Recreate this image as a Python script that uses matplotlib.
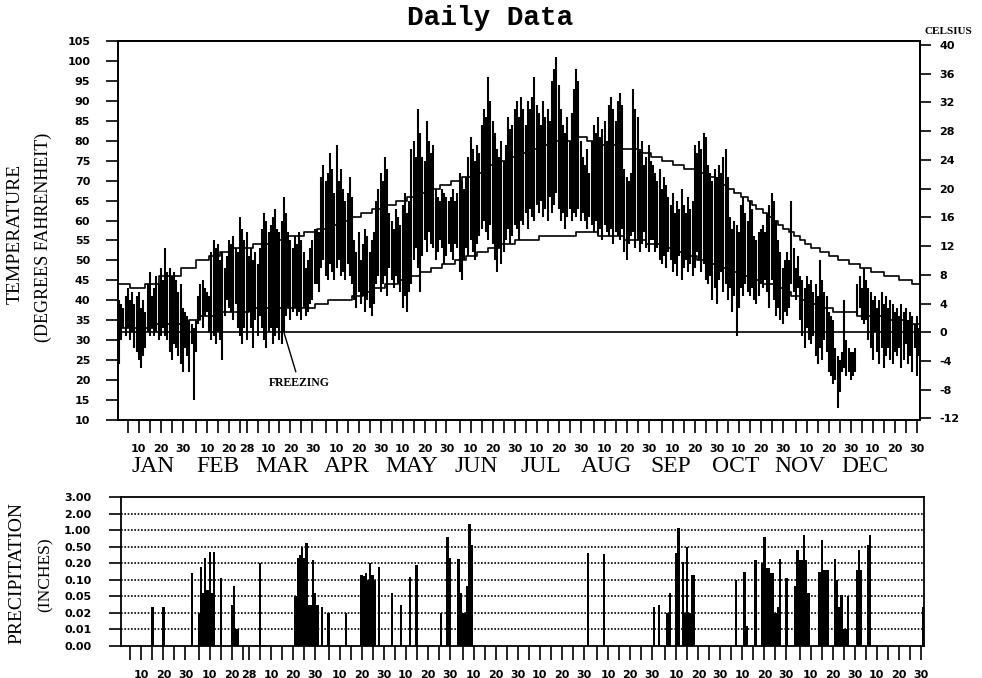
import numpy as np
import matplotlib
matplotlib.use("Agg")
import matplotlib.pyplot as plt
from matplotlib.transforms import blended_transform_factory

plt.rcParams['axes.unicode_minus'] = False

# ---------------- data ----------------
month_names = ["JAN", "FEB", "MAR", "APR", "MAY", "JUN",
               "JUL", "AUG", "SEP", "OCT", "NOV", "DEC"]
month_lengths = [31, 28, 31, 30, 31, 30, 31, 31, 30, 31, 30, 31]

hi_jan = [40, 39, 38, 41, 43, 40, 42, 39, 41, 42, 38, 40, 37, 44, 47, 41, 43, 46, 44, 48, 45, 53, 47, 48, 46, 47, 45, 42, 44, 38, 37]
lo_jan = [24, 30, 33, 31, 33, 30, 32, 28, 27, 25, 23, 26, 28, 32, 31, 33, 31, 32, 30, 31, 33, 31, 30, 27, 25, 29, 28, 26, 24, 22, 28]
hi_feb = [36, 35, 34, 33, 35, 41, 44, 45, 43, 42, 41, 52, 55, 53, 54, 50, 52, 48, 51, 55, 54, 56, 53, 52, 61, 58, 55, 57]
lo_feb = [26, 22, 29, 15, 27, 34, 35, 33, 36, 37, 32, 30, 31, 29, 32, 30, 25, 36, 40, 38, 37, 35, 39, 33, 31, 29, 33, 30]
hi_mar = [51, 53, 50, 52, 49, 53, 58, 62, 60, 57, 59, 61, 63, 58, 57, 60, 66, 62, 57, 55, 53, 56, 54, 57, 55, 52, 48, 50, 53, 55, 58]
lo_mar = [37, 33, 28, 35, 31, 36, 33, 30, 28, 32, 33, 29, 31, 33, 30, 29, 32, 36, 38, 35, 37, 38, 36, 37, 35, 38, 36, 37, 39, 40, 44]
hi_apr = [58, 57, 71, 74, 70, 72, 77, 73, 67, 79, 70, 73, 68, 65, 67, 71, 66, 55, 52, 57, 50, 54, 58, 56, 52, 55, 57, 65, 68, 72]
lo_apr = [44, 42, 48, 50, 46, 45, 49, 47, 45, 48, 50, 46, 47, 45, 49, 46, 44, 40, 38, 42, 39, 41, 37, 40, 38, 36, 39, 44, 46, 42]
hi_may = [70, 76, 73, 62, 60, 58, 63, 61, 59, 64, 67, 62, 65, 78, 80, 76, 88, 82, 76, 75, 85, 80, 77, 79, 68, 66, 65, 68, 67, 66, 65]
lo_may = [44, 46, 41, 48, 45, 43, 46, 44, 42, 38, 41, 37, 42, 44, 50, 53, 48, 42, 51, 55, 52, 57, 54, 53, 50, 52, 55, 53, 49, 51, 54]
hi_jun = [66, 68, 65, 67, 72, 70, 68, 71, 76, 81, 78, 75, 79, 77, 84, 88, 86, 96, 90, 85, 82, 78, 76, 80, 75, 79, 86, 83, 84, 88]
lo_jun = [52, 50, 54, 53, 47, 45, 50, 53, 51, 55, 52, 50, 54, 56, 58, 60, 57, 55, 59, 54, 50, 47, 53, 49, 52, 55, 58, 54, 56, 59]
hi_jul = [90, 86, 91, 88, 84, 90, 88, 91, 96, 89, 87, 84, 90, 86, 88, 85, 95, 98, 101, 94, 88, 84, 82, 86, 80, 87, 93, 98, 95, 80, 76]
lo_jul = [58, 55, 60, 59, 62, 58, 63, 61, 60, 64, 62, 65, 61, 63, 60, 66, 62, 64, 67, 63, 60, 62, 58, 61, 63, 60, 62, 61, 63, 60, 62]
hi_aug = [74, 78, 72, 80, 84, 82, 86, 81, 83, 85, 80, 89, 91, 88, 85, 90, 92, 89, 73, 71, 70, 72, 93, 88, 86, 78, 80, 74, 76, 79, 75]
lo_aug = [60, 58, 61, 59, 57, 60, 56, 58, 55, 59, 57, 56, 58, 54, 57, 56, 55, 58, 52, 50, 54, 56, 57, 53, 55, 52, 54, 57, 53, 52, 55]
hi_sep = [74, 72, 70, 73, 68, 71, 69, 66, 64, 67, 62, 65, 63, 68, 64, 62, 66, 63, 65, 79, 77, 80, 78, 82, 81, 74, 72, 70, 73, 71]
lo_sep = [55, 52, 53, 50, 49, 51, 48, 52, 50, 47, 49, 46, 51, 45, 48, 50, 47, 49, 46, 48, 52, 50, 47, 49, 45, 44, 46, 40, 43, 39]
hi_oct = [74, 72, 76, 78, 71, 61, 58, 60, 59, 57, 64, 66, 62, 60, 65, 63, 56, 55, 57, 58, 59, 57, 62, 64, 67, 65, 60, 55, 52, 48, 50]
lo_oct = [45, 47, 42, 44, 40, 43, 37, 41, 31, 38, 43, 41, 44, 42, 41, 43, 40, 39, 41, 44, 43, 45, 42, 38, 45, 40, 36, 38, 35, 34, 37]
hi_nov = [52, 50, 65, 53, 48, 51, 46, 45, 43, 46, 44, 45, 42, 44, 41, 50, 45, 42, 41, 37, 36, 35, 28, 26, 25, 27, 40, 30, 28, 27]
lo_nov = [36, 38, 44, 42, 40, 43, 35, 31, 28, 33, 30, 29, 31, 26, 24, 28, 25, 30, 27, 22, 21, 19, 20, 13, 17, 22, 23, 21, 22, 20]
hi_dec = [27, 28, 44, 46, 43, 48, 45, 43, 42, 40, 41, 38, 40, 42, 39, 41, 38, 40, 39, 37, 38, 36, 39, 37, 38, 35, 37, 36, 34, 36, 33]
lo_dec = [21, 22, 36, 38, 35, 34, 35, 30, 28, 25, 32, 27, 24, 28, 23, 26, 28, 25, 24, 27, 26, 28, 23, 25, 29, 24, 26, 22, 28, 21, 26]

# normal high / low (step lines): day the step starts, value
norm_hi_day = [1, 6, 13, 19, 29, 36, 42, 47, 53, 62, 70, 78, 85, 91, 96, 101, 106, 111, 116, 121, 127, 132, 137, 142,
               147, 152, 157, 162, 166, 170, 174, 178, 183, 188, 194, 200, 207, 214, 220, 229, 237, 243, 248, 253,
               258, 263, 268, 272, 275, 278, 281, 284, 287, 289, 291, 294, 296, 298, 301, 303, 306, 308, 311, 313,
               316, 320, 324, 328, 333, 338, 343, 349, 356, 362]
norm_hi_val = [44, 43, 44, 46, 48, 50, 51, 52, 53, 54, 55, 56, 57, 58, 59, 60, 61, 62, 63, 64, 65, 66, 67, 68,
               69, 70, 71, 72, 73, 74, 75, 76, 77, 78, 79, 80, 81, 80, 79, 78, 77, 76, 75, 74,
               73, 72, 71, 70, 69, 68, 67, 66, 65, 64, 63, 62, 61, 60, 59, 58, 57, 56, 55, 54,
               53, 52, 51, 50, 49, 48, 47, 46, 45, 44]
norm_lo_day = [1, 18, 33, 38, 46, 60, 90, 96, 107, 112, 117, 122, 128, 134, 138, 143, 148, 154, 159, 164, 169, 175,
               181, 192, 209, 219, 231, 241, 248, 254, 259, 264, 269, 273, 280, 285, 290, 294, 299, 303, 307, 311,
               316, 321, 326, 337, 350, 358]
norm_lo_val = [33, 34, 35, 36, 37, 38, 39, 40, 41, 42, 43, 44, 45, 46, 47, 48, 49, 50, 51, 52, 53, 54,
               55, 56, 57, 56, 55, 54, 53, 52, 51, 50, 49, 48, 47, 46, 45, 44, 43, 42, 41, 40,
               39, 38, 37, 36, 35, 34]

freezing_f = 32

# precipitation (day of year, inches) -- only rain days
precip_day = [15, 20, 33, 36, 37, 38, 39, 40, 41, 42, 43, 46, 51, 52, 53, 54, 64,
              80, 81, 82, 83, 84, 85, 86, 87, 88, 89, 90, 92, 95, 103,
              110, 111, 112, 113, 114, 115, 116, 118, 124, 128, 132, 135, 146, 149, 150,
              154, 155, 156, 157, 158, 159, 160, 213, 220,
              243, 245, 249, 250, 253, 254, 256, 257, 258, 259, 260, 261,
              280, 284, 285, 289, 292, 293, 294, 295, 296, 297, 298, 299, 300, 303,
              307, 308, 309, 310, 311, 312, 313, 318, 319, 320, 321, 322,
              325, 326, 327, 328, 329, 330, 331, 335, 336, 337, 340, 341, 365]
precip_val = [0.03, 0.03, 0.14, 0.02, 0.18, 0.06, 0.30, 0.07, 0.41, 0.06, 0.41, 0.11, 0.035, 0.08, 0.01, 0.01, 0.20,
              0.05, 0.30, 0.35, 0.50, 0.30, 0.60, 0.035, 0.035, 0.26, 0.06, 0.035, 0.03, 0.02, 0.02,
              0.13, 0.12, 0.14, 0.10, 0.20, 0.13, 0.10, 0.18, 0.06, 0.035, 0.115, 0.19, 0.02, 0.80, 0.29,
              0.27, 0.06, 0.02, 0.02, 0.08, 1.35, 0.55, 0.38, 0.37,
              0.03, 0.035, 0.02, 0.06, 0.38, 1.10, 0.23, 0.02, 0.50, 0.02, 0.13, 0.13,
              0.10, 0.15, 0.012, 0.26, 0.20, 0.80, 0.17, 0.17, 0.14, 0.14, 0.02, 0.03, 0.27, 0.11,
              0.08, 0.44, 0.26, 0.26, 0.85, 0.26, 0.06, 0.15, 0.70, 0.16, 0.16, 0.16,
              0.28, 0.10, 0.03, 0.054, 0.01, 0.01, 0.05, 0.16, 0.44, 0.16, 0.55, 0.85, 0.03]

precip_levels = [0.00, 0.01, 0.02, 0.05, 0.10, 0.20, 0.50, 1.00, 2.00, 3.00]
precip_labels = ["0.00", "0.01", "0.02", "0.05", "0.10", "0.20", "0.50", "1.00", "2.00", "3.00"]
f_ticks = [10, 15, 20, 25, 30, 35, 40, 45, 50, 55, 60, 65, 70, 75, 80, 85, 90, 95, 100, 105]
c_ticks = [40, 36, 32, 28, 24, 20, 16, 12, 8, 4, 0, -4, -8, -12]

# ---------------- assemble ----------------
highs = np.array(hi_jan + hi_feb + hi_mar + hi_apr + hi_may + hi_jun +
                 hi_jul + hi_aug + hi_sep + hi_oct + hi_nov + hi_dec, dtype=float)
lows = np.array(lo_jan + lo_feb + lo_mar + lo_apr + lo_may + lo_jun +
                lo_jul + lo_aug + lo_sep + lo_oct + lo_nov + lo_dec, dtype=float)
days = np.arange(1, len(highs) + 1)

month_start = np.cumsum([0] + month_lengths[:-1]) + 1
tick_pos, tick_lab = [], []
for ms, ml in zip(month_start, month_lengths):
    doms = [5, 10, 15, 20, 25, 28] if ml == 28 else [5, 10, 15, 20, 25, 30]
    for d in doms:
        tick_pos.append(ms + d - 1)
        tick_lab.append(str(d) if d in (10, 20, 28, 30) else "")

W, H = 982, 678
fig = plt.figure(figsize=(W / 100, H / 100), dpi=100)
ax = fig.add_axes([118 / W, 1 - 420 / H, 802 / W, 379 / H])
axp = fig.add_axes([120.5 / W, 1 - 646 / H, 803.5 / W, 149 / H])

tickfont = dict(family="DejaVu Sans", weight="bold", size=8)
serif = "Liberation Serif"

# temperature bars
ax.vlines(days, lows, highs, color="black", lw=1.5)
ax.step(norm_hi_day + [366], norm_hi_val + [norm_hi_val[-1]], where="post", color="black", lw=1.2)
ax.step(norm_lo_day + [366], norm_lo_val + [norm_lo_val[-1]], where="post", color="black", lw=1.2)
ax.axhline(freezing_f, color="black", lw=1.2)

ax.set_xlim(0.5, 365.5)
ax.set_ylim(10, 105)
ax.set_yticks(f_ticks)
ax.set_yticklabels([str(v) for v in f_ticks], fontdict=tickfont)
ax.set_xticks(tick_pos)
ax.set_xticklabels(tick_lab, fontdict=tickfont)
ax.tick_params(axis="y", direction="out", length=9, width=1.2, pad=11)
ax.tick_params(axis="x", direction="out", length=9, width=1.2, pad=8)
for s in ax.spines.values():
    s.set_linewidth(1.3)

ax2 = ax.twinx()
ax2.set_ylim((10 - 32) * 5 / 9, (105 - 32) * 5 / 9)
ax2.set_yticks(c_ticks)
ax2.set_yticklabels([str(v) for v in c_ticks], fontdict=tickfont)
ax2.tick_params(axis="y", direction="out", length=8, width=1.2, pad=6)
for s in ax2.spines.values():
    s.set_linewidth(1.3)

# month labels
trans = blended_transform_factory(ax.transAxes, ax.transAxes)
for i, m in enumerate(month_names):
    xf = (153 - 118 + i * 64.7) / 802
    ax.text(xf, -0.122, m, transform=trans, ha="center", va="center",
            family=serif, fontsize=17)

# freezing annotation
ax.annotate("FREEZING", xy=(76, 32), xytext=(83, 19.2), ha="center", va="center",
            family=serif, weight="bold", fontsize=8.5,
            arrowprops=dict(arrowstyle="-", color="black", lw=1.0, shrinkA=2, shrinkB=0))

# precipitation panel
def fwd(v):
    return np.interp(v, precip_levels, np.arange(len(precip_levels)))

def inv(i):
    return np.interp(i, np.arange(len(precip_levels)), precip_levels)

axp.set_yscale("function", functions=(fwd, inv))
axp.bar(precip_day, precip_val, width=1.0, color="black", align="center")
axp.set_ylim(0, 3.0)
axp.set_xlim(0.5, 365.5)
axp.set_yticks(precip_levels)
axp.set_yticklabels(precip_labels, fontdict=tickfont)
axp.yaxis.set_minor_locator(matplotlib.ticker.NullLocator())
for lv in precip_levels[1:-1]:
    axp.axhline(lv, color="black", lw=1.2, ls=(0, (1, 1)), zorder=0)
axp.set_xticks(tick_pos)
axp.set_xticklabels(tick_lab, fontdict=tickfont)
axp.tick_params(axis="y", direction="out", length=9, width=1.2, pad=12)
axp.tick_params(axis="x", direction="out", length=10, width=1.2, pad=7)
for s in axp.spines.values():
    s.set_linewidth(1.3)

# titles and axis labels
fig.text(490 / W, 1 - 18 / H, "Daily Data", ha="center", va="center",
         family="Liberation Mono", weight="bold", fontsize=20)
fig.text(948 / W, 1 - 31 / H, "CELSIUS", ha="center", va="center",
         family=serif, weight="bold", fontsize=8)
fig.text(15 / W, 1 - 234 / H, "TEMPERATURE", rotation=90, ha="center", va="center",
         family=serif, fontsize=14)
fig.text(43 / W, 1 - 237 / H, "(DEGREES FAHRENHEIT)", rotation=90, ha="center", va="center",
         family=serif, fontsize=13)
fig.text(17 / W, 1 - 573 / H, "PRECIPITATION", rotation=90, ha="center", va="center",
         family=serif, fontsize=14)
fig.text(46 / W, 1 - 575 / H, "(INCHES)", rotation=90, ha="center", va="center",
         family=serif, fontsize=12.5)

fig.savefig("out.png", dpi=100)
